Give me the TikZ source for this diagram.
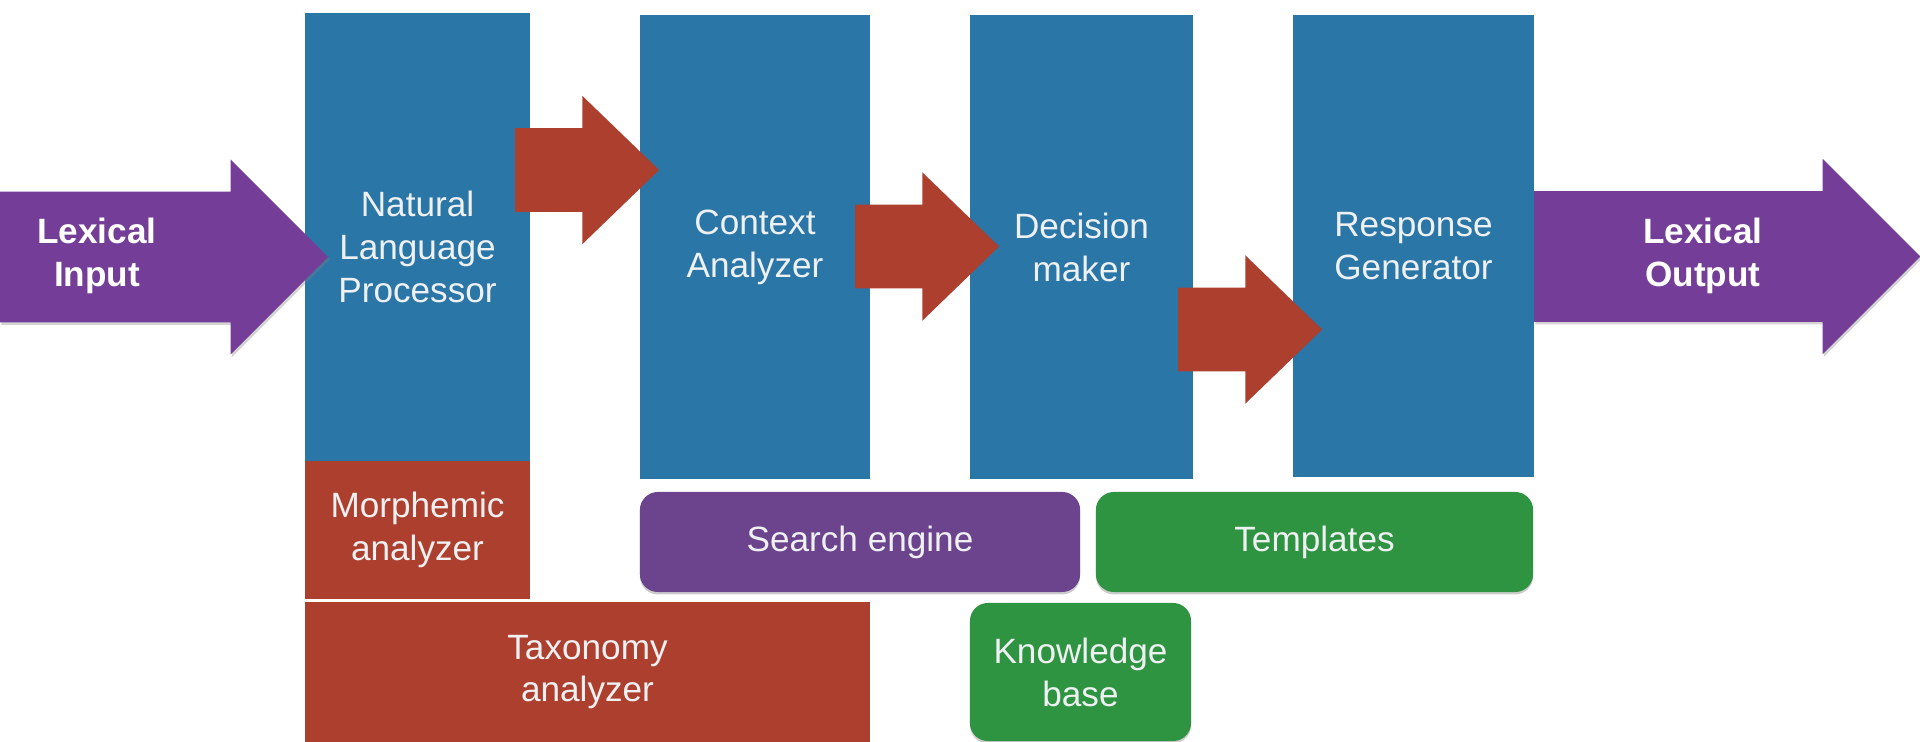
\documentclass[tikz,border=0pt]{standalone}
\usepackage{fontspec}
\setmainfont{Liberation Sans}
\usetikzlibrary{positioning,shapes.arrows,shadows}
\definecolor{stageblue}{RGB}{42,118,167}
\definecolor{brick}{RGB}{173,63,46}
\definecolor{plum}{RGB}{116,62,152}
\definecolor{grape}{RGB}{108,67,141}
\definecolor{leaf}{RGB}{47,148,66}
\definecolor{chalk}{RGB}{238,240,242}
\tikzset{
  every node/.style={font=\fontsize{10}{12.2}\selectfont},
  blk/.style={text=chalk,align=center,inner sep=0pt,outer sep=0pt},
  stage/.style={blk,fill=stageblue},
  part/.style={blk,fill=brick},
  store/.style={blk,rounded corners=1.8mm,drop shadow={shadow xshift=0pt,shadow yshift=-.7pt,opacity=.4}},
  flow/.style={single arrow,fill=brick,single arrow tip angle=88,anchor=tail,inner xsep=0pt,inner ysep=.32cm,outer sep=0pt,minimum width=1.48cm,minimum height=1.44cm},
  io/.style={flow,fill=plum,single arrow tip angle=90,inner ysep=.5cm,minimum width=1.95cm,drop shadow={shadow xshift=.4pt,shadow yshift=-.7pt,opacity=.35}},
  lex/.style={font=\fontsize{10}{12.2}\selectfont\bfseries,text=white,align=center}
}
\begin{document}
\begin{tikzpicture}[x=0.01cm,y=-0.01cm]
  \useasboundingbox (0,0) rectangle (1920,742);
  % processing stages
  \node[stage,minimum width=2.25cm,minimum height=4.48cm] (nlp) at (417.5,237) {};
  \node[blk] (nlplbl) at (417.5,247) {Natural\\Language\\Processor};
  \node[stage,minimum width=2.3cm,minimum height=4.63cm] (ctx) at (755,247) {Context\\Analyzer};
  \node[stage,minimum width=2.23cm,minimum height=4.63cm] (dec) at (1081.5,247) {Decision\\maker};
  \node[stage,minimum width=2.41cm,minimum height=4.62cm] (resp) at (1413.5,246) {Response\\Generator};
  % analyzers under the processor
  \node[part,minimum width=2.25cm,minimum height=1.38cm,below=0pt of nlp] (morph) {Morphemic\\analyzer};
  \node[part,minimum width=5.65cm,minimum height=1.4cm] (tax) at (587.5,672) {Taxonomy\\analyzer};
  % resources
  \node[store,fill=grape,minimum width=4.4cm,minimum height=1cm] (search) at (860,542) {Search engine};
  \node[store,fill=leaf,minimum width=4.37cm,minimum height=1cm] (tmpl) at (1314.5,542) {Templates};
  \node[store,fill=leaf,minimum width=2.21cm,minimum height=1.38cm] (kb) at (1080.5,672) {Knowledge\\base};
  % flow between the stages
  \foreach \n/\a/\y in {1/nlp/170,2/ctx/246.5,3/dec/329.5}
    \node[flow,xshift=-.15cm] (flow\n) at (\a.east |- 0,\y) {};
  \node[io,minimum height=3.28cm] (lexin) at (0,257) {};
  \node[io,minimum height=3.86cm] (lexout) at (resp.east |- 0,256.5) {};
  \node[lex] (lexinlbl) at (97,256) {Lexical\\Input};
  \node[lex] (lexoutlbl) at (1703,256) {Lexical\\Output};
\end{tikzpicture}
\end{document}
